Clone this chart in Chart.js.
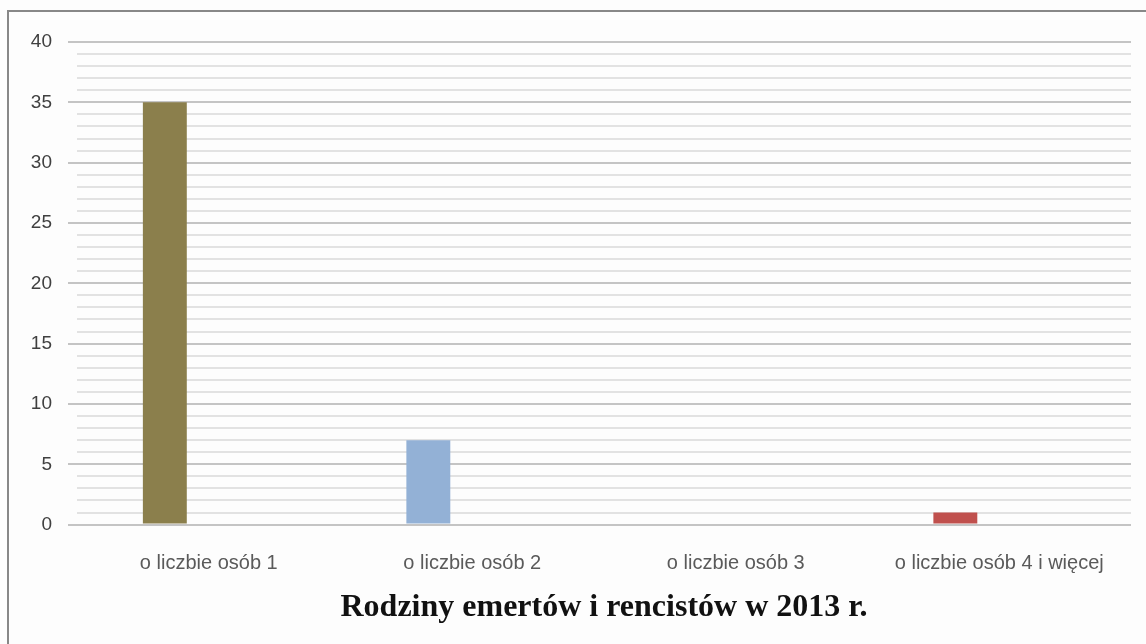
<!DOCTYPE html>
<html>
<head>
<meta charset="utf-8">
<script src="https://cdn.jsdelivr.net/npm/chart.js@4"></script>
<style>
  html, body { margin: 0; padding: 0; background: #fdfdfd; }
  #frame {
    position: absolute; left: 7px; top: 10px; width: 1160px; height: 660px;
    border-left: 2px solid #888; border-top: 2px solid #888;
  }
  #wrap { position: absolute; left: 0; top: 0; width: 1146px; height: 644px; }
</style>
</head>
<body>
<div id="frame"></div>
<div id="wrap"><canvas id="chart"></canvas></div>
<script>
// dane
const categories = ['o liczbie osób 1', 'o liczbie osób 2', 'o liczbie osób 3', 'o liczbie osób 4 i więcej'];
const familyCounts = [35, 7, 0, 1];
const barColors = ['#8b7f4c', '#93b1d6', '#8b7f4c', '#c0504d'];
const yTicksMajor = [0, 5, 10, 15, 20, 25, 30, 35, 40];
const chartTitle = 'Rodziny emertów i rencistów w 2013 r.';

const ctx = document.getElementById('chart').getContext('2d');
new Chart(ctx, {
    type: 'bar',
    data: {
        labels: categories,
        datasets: [
            { label: 'Rodziny', data: familyCounts, backgroundColor: barColors },
            { label: '', data: [] },
            { label: '', data: [] }
        ]
    },
    options: {
        responsive: true,
        maintainAspectRatio: false,
        animation: false,
        layout: { padding: { left: 7, right: 15, top: 42, bottom: 17 } },
        datasets: { bar: { categoryPercentage: 0.5, barPercentage: 1 } },
        plugins: {
            legend: { display: false },
            tooltip: { enabled: false },
            title: {
                display: true,
                position: 'bottom',
                fullSize: false,
                text: chartTitle,
                color: '#111',
                font: { family: '"Liberation Serif", "Times New Roman", serif', size: 32, weight: 'bold' },
                padding: { top: 13, bottom: 0 }
            }
        },
        scales: {
            x: {
                afterFit: function (scale) { scale.height = 51; },
                grid: { display: false, drawTicks: false },
                border: { display: false },
                ticks: {
                    color: '#5a5a5a',
                    padding: 27,
                    font: { family: '"Liberation Sans", Arial, sans-serif', size: 20 }
                }
            },
            y: {
                min: 0,
                max: 40,
                afterFit: function (scale) { scale.width = 70; },
                border: { display: false },
                grid: {
                    lineWidth: 2,
                    tickLength: 9,
                    color: function (c) {
                        return yTicksMajor.includes(c.tick.value) ? '#c4c4c4' : '#e2e2e2';
                    },
                    tickColor: function (c) {
                        return yTicksMajor.includes(c.tick.value) ? '#c4c4c4' : 'rgba(0,0,0,0)';
                    }
                },
                ticks: {
                    stepSize: 1,
                    autoSkip: false,
                    padding: 16,
                    color: '#404040',
                    font: { family: '"Liberation Sans", Arial, sans-serif', size: 19 },
                    callback: function (v) { return yTicksMajor.includes(v) ? v : ''; }
                }
            }
        }
    }
});
</script>
</body>
</html>
